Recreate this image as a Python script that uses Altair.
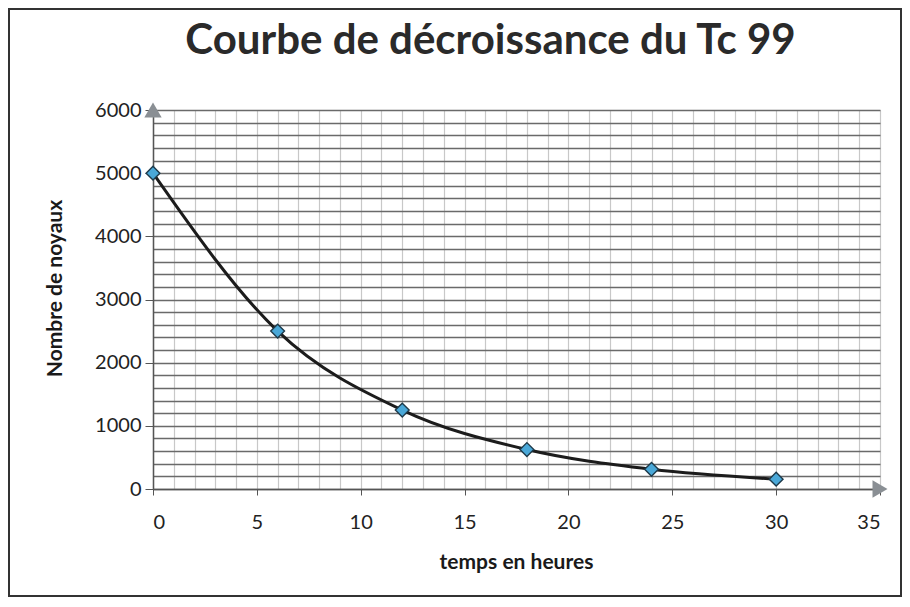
import altair as alt
import pandas as pd

# Data
hours = [0, 6, 12, 18, 24, 30]
noyaux = [5000, 2500, 1250, 625, 312, 156]

x_ticks = list(range(0, 36, 1))
y_ticks = list(range(0, 6001, 200))

arrow_x = [0, 35]
arrow_y = [6000, 0]
arrow_shape = ["triangle-up", "triangle-right"]

df = pd.DataFrame({"t": hours, "n": noyaux})
arrows = pd.DataFrame({"t": arrow_x, "n": arrow_y, "shape": arrow_shape})
frame = pd.DataFrame({"k": [0]})

FONT = "Lato"

xscale = alt.Scale(domain=[0, 35], nice=False, zero=False)
yscale = alt.Scale(domain=[0, 6000], nice=False)

xaxis = alt.Axis(
    values=x_ticks, tickCount=200, format="d", labelOverlap=False,
    title="temps en heures",
    titleFont=FONT, titleFontSize=21, titleFontWeight="bold", titleColor="#1a1a1a",
    titleX=363, titleY=73, titleAlign="center", titleBaseline="middle",
    labelFont=FONT, labelFontSize=20, labelColor="#222222",
    labelExpr="datum.value % 5 === 0 ? datum.label : ''",
    labelPadding=17,
    tickSize=6, tickColor="#555555",
    tickOpacity={"condition": {"test": "datum.value % 5 === 0", "value": 1}, "value": 0},
    domainColor="#555555", domainWidth=1.5,
    grid=True, gridColor="#c8c8c8", gridWidth=1.2,
)
yaxis = alt.Axis(
    values=y_ticks, tickCount=200, format="d", labelOverlap=False,
    title="Nombre de noyaux",
    titleFont=FONT, titleFontSize=21, titleFontWeight="bold", titleColor="#1a1a1a",
    titleX=-98, titleY=178, titleAlign="center", titleBaseline="middle", titleAngle=270,
    labelFont=FONT, labelFontSize=20, labelColor="#222222",
    labelExpr="datum.value % 1000 === 0 ? datum.label : ''",
    labelPadding=4,
    tickSize=8, tickColor="#555555",
    tickOpacity={"condition": {"test": "datum.value % 1000 === 0", "value": 1}, "value": 0},
    domainColor="#555555", domainWidth=1.5,
    grid=True, gridColor="#6a6a6a", gridWidth=1.3,
)

line = alt.Chart(df).mark_line(
    interpolate="monotone", color="#1c1c1c", strokeWidth=3
).encode(
    x=alt.X("t:Q", scale=xscale, axis=xaxis),
    y=alt.Y("n:Q", scale=yscale, axis=yaxis),
)

pts = alt.Chart(df).mark_point(
    shape="diamond", filled=True, fill="#4aa8d8", stroke="#1e3a4a",
    strokeWidth=1.4, size=190, opacity=1
).encode(x="t:Q", y="n:Q")

arr = alt.Chart(arrows).mark_point(
    filled=True, color="#8a8f94", size=300, opacity=1
).encode(
    x="t:Q", y="n:Q",
    shape=alt.Shape("shape:N", scale=None, legend=None),
)

border = alt.Chart(frame).mark_rect(
    fill=None, stroke="#333333", strokeWidth=2
).encode(
    x=alt.value(-144), x2=alt.value(748), y=alt.value(-101), y2=alt.value(486)
)

chart = alt.layer(line, arr, pts, border).properties(
    width=727, height=379,
    title=alt.TitleParams(
        "Courbe de décroissance du Tc 99",
        font=FONT, fontSize=42, fontWeight="bold", color="#2a2a2a",
        anchor="middle", dx=-26, offset=0, dy=55,
    ),
    autosize=alt.AutoSizeParams(type="none"),
    padding={"left": 145, "top": 102, "right": 22, "bottom": 108},
).configure_view(stroke=None).configure(background="white")

chart.save("out.html", embed_options={"renderer": "svg", "actions": False})
